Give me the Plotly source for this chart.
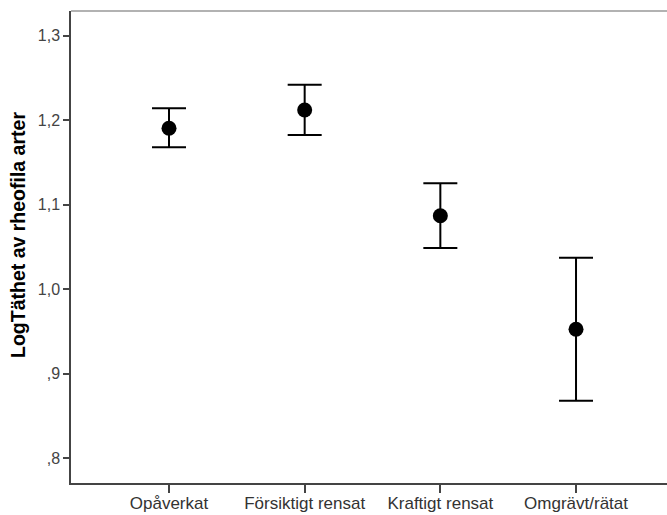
import plotly.graph_objects as go

categories = ["Opåverkat", "Försiktigt rensat", "Kraftigt rensat", "Omgrävt/rätat"]
means = [1.1903, 1.2119, 1.0870, 0.9527]
upper = [1.2139, 1.2418, 1.1253, 1.0373]
lower = [1.1678, 1.1824, 1.0488, 0.8683]
y_ticks = [0.8, 0.9, 1.0, 1.1, 1.2, 1.3]
y_tick_labels = [",8", ",9", "1,0", "1,1", "1,2", "1,3"]
y_title = "LogTäthet av rheofila arter"

x_idx = list(range(len(categories)))
err_plus = [u - m for u, m in zip(upper, means)]
err_minus = [m - l for m, l in zip(means, lower)]

fig = go.Figure()
fig.add_trace(go.Scatter(
    x=x_idx, y=means, mode="markers",
    marker=dict(color="black", size=15),
    error_y=dict(type="data", symmetric=False, array=err_plus, arrayminus=err_minus,
                 color="black", thickness=2, width=17),
    showlegend=False,
))

fig.update_layout(
    width=667, height=515,
    margin=dict(l=71, r=0, t=11, b=32),
    paper_bgcolor="white", plot_bgcolor="white",
    font=dict(family="Liberation Sans, Arial, sans-serif", size=16, color="#333333"),
    xaxis=dict(
        range=[-0.7223, 3.6706], tickvals=x_idx, ticktext=categories, automargin=False,
        showgrid=False, zeroline=False, showline=True, linecolor="#444444", linewidth=1.5,
        ticks="outside", ticklen=8, tickwidth=1.5, tickcolor="#444444",
        tickfont=dict(size=17, color="#333333"), ticklabelstandoff=-4,
    ),
    yaxis=dict(
        range=[0.7710, 1.3290], tickvals=y_ticks, ticktext=y_tick_labels, automargin=False,
        showgrid=False, zeroline=False, showline=True, linecolor="#444444", linewidth=1.5,
        ticks="outside", ticklen=6, tickwidth=1.5, tickcolor="#444444",
        tickfont=dict(size=16, color="#444444"),
    ),
)
fig.add_annotation(text="<b>" + y_title + "</b>", textangle=-90, showarrow=False,
                   xref="paper", yref="paper", x=(18 - 71) / 596, y=(483 - 235) / 472,
                   xanchor="center", yanchor="middle",
                   font=dict(size=19.5, color="black"))
fig.add_shape(type="line", xref="paper", yref="paper", x0=0, x1=1, y0=1, y1=1,
              line=dict(color="#999999", width=1.5))

fig.write_html("out.html", config={"displayModeBar": False},
               post_script="document.body.style.margin='0px';")
